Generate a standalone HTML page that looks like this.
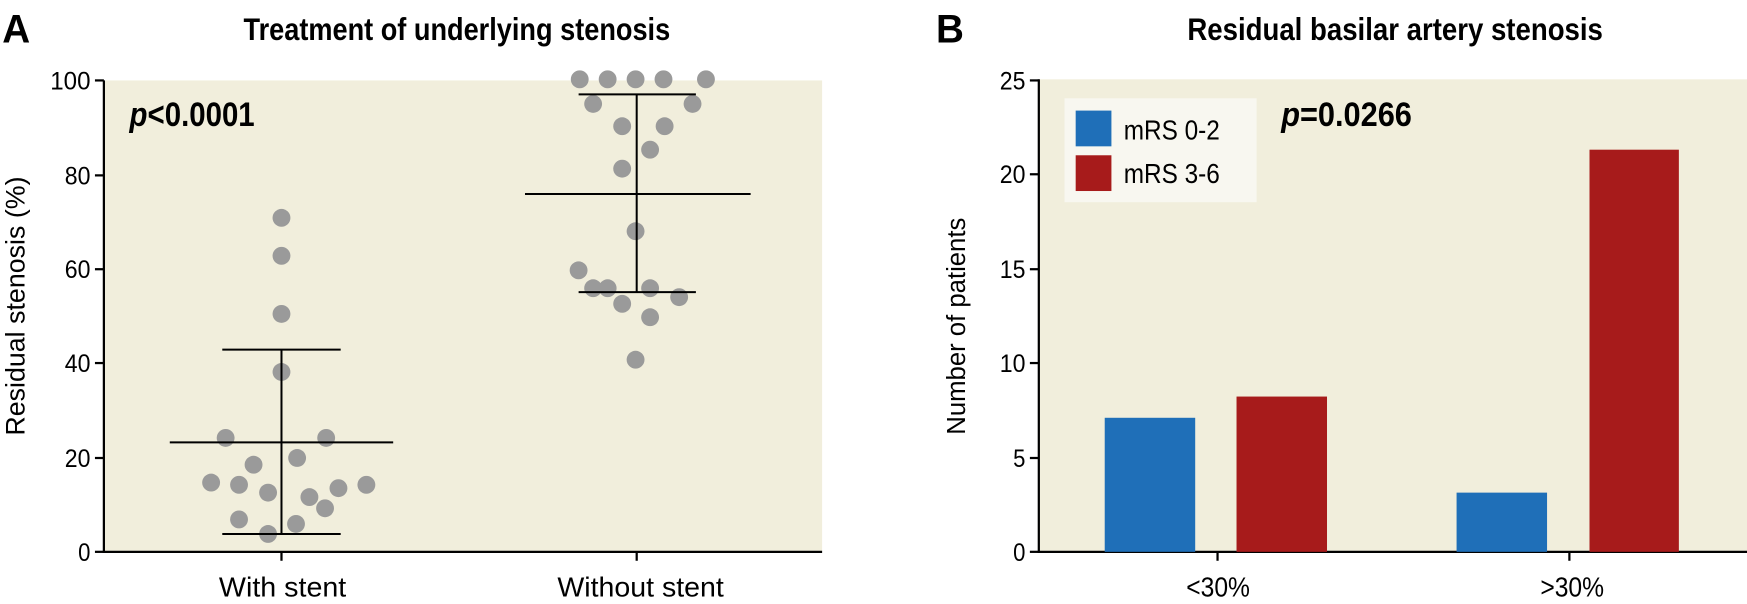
<!DOCTYPE html>
<html><head><meta charset="utf-8"><style>
html,body{margin:0;padding:0;background:#fff;}
svg{display:block;}
.n{font-family:"Liberation Sans Narrow","Liberation Sans",sans-serif;}
.s{font-family:"Liberation Sans",sans-serif;}
</style></head><body>
<svg width="1747" height="604" viewBox="0 0 1564 540.7" preserveAspectRatio="none" xmlns="http://www.w3.org/2000/svg">
<rect width="1564" height="541" fill="#fff"/>
<!-- Panel A -->
<text x="2" y="38" class="n" font-size="36" font-weight="bold" textLength="25" lengthAdjust="spacingAndGlyphs">A</text>
<text x="218" y="36" class="n" font-size="28" font-weight="bold" textLength="382" lengthAdjust="spacingAndGlyphs">Treatment of underlying stenosis</text>
<rect x="93" y="72" width="643" height="422" fill="#f1eedc"/>
<g stroke="#000" stroke-width="2">
<line x1="93" y1="72" x2="93" y2="495"/>
<line x1="92" y1="494" x2="736" y2="494"/>
<line x1="85" y1="494" x2="93" y2="494"/><line x1="85" y1="410" x2="93" y2="410"/>
<line x1="85" y1="325" x2="93" y2="325"/><line x1="85" y1="241" x2="93" y2="241"/>
<line x1="85" y1="157" x2="93" y2="157"/><line x1="85" y1="72" x2="93" y2="72"/>
<line x1="252" y1="494" x2="252" y2="502"/><line x1="570" y1="494" x2="570" y2="502"/>
</g>
<g class="n" font-size="22">
<text x="70" y="502" textLength="11" lengthAdjust="spacingAndGlyphs">0</text>
<text x="58" y="418" textLength="23" lengthAdjust="spacingAndGlyphs">20</text>
<text x="58" y="333" textLength="23" lengthAdjust="spacingAndGlyphs">40</text>
<text x="58" y="249" textLength="23" lengthAdjust="spacingAndGlyphs">60</text>
<text x="58" y="165" textLength="23" lengthAdjust="spacingAndGlyphs">80</text>
<text x="45" y="80" textLength="36" lengthAdjust="spacingAndGlyphs">100</text>
</g>
<text x="196" y="534" class="n" font-size="25" textLength="114" lengthAdjust="spacingAndGlyphs">With stent</text>
<text x="499" y="534" class="n" font-size="25" textLength="149" lengthAdjust="spacingAndGlyphs">Without stent</text>
<text transform="translate(22,274) rotate(-90)" class="s" font-size="24" text-anchor="middle">Residual stenosis (%)</text>
<text x="116" y="113" class="n" font-size="31" font-weight="bold" textLength="112" lengthAdjust="spacingAndGlyphs"><tspan font-style="italic">p</tspan>&lt;0.0001</text>
<g fill="#9a9a9a">
<circle cx="252" cy="195" r="8"/><circle cx="252" cy="229" r="8"/><circle cx="252" cy="281" r="8"/><circle cx="252" cy="333" r="8"/>
<circle cx="202" cy="392" r="8"/><circle cx="292" cy="392" r="8"/><circle cx="266" cy="410" r="8"/><circle cx="227" cy="416" r="8"/>
<circle cx="189" cy="432" r="8"/><circle cx="214" cy="434" r="8"/><circle cx="240" cy="441" r="8"/><circle cx="277" cy="445" r="8"/>
<circle cx="303" cy="437" r="8"/><circle cx="328" cy="434" r="8"/><circle cx="291" cy="455" r="8"/><circle cx="214" cy="465" r="8"/>
<circle cx="265" cy="469" r="8"/><circle cx="240" cy="478" r="8"/>
<circle cx="519" cy="71" r="8"/><circle cx="544" cy="71" r="8"/><circle cx="569" cy="71" r="8"/><circle cx="594" cy="71" r="8"/><circle cx="632" cy="71" r="8"/>
<circle cx="531" cy="93" r="8"/><circle cx="620" cy="93" r="8"/><circle cx="557" cy="113" r="8"/><circle cx="595" cy="113" r="8"/>
<circle cx="582" cy="134" r="8"/><circle cx="557" cy="151" r="8"/><circle cx="569" cy="207" r="8"/><circle cx="518" cy="242" r="8"/>
<circle cx="531" cy="258" r="8"/><circle cx="544" cy="258" r="8"/><circle cx="582" cy="258" r="8"/><circle cx="608" cy="266" r="8"/>
<circle cx="557" cy="272" r="8"/><circle cx="582" cy="284" r="8"/><circle cx="569" cy="322" r="8"/>
</g>
<g stroke="#000" stroke-width="1.8">
<line x1="252" y1="313" x2="252" y2="478"/>
<line x1="152" y1="396" x2="352" y2="396"/>
<line x1="199" y1="313" x2="305" y2="313"/>
<line x1="199" y1="478" x2="305" y2="478"/>
<line x1="570" y1="84.5" x2="570" y2="261.5"/>
<line x1="470" y1="173.7" x2="672" y2="173.7"/>
<line x1="518" y1="84.5" x2="623" y2="84.5"/>
<line x1="518" y1="261.5" x2="623" y2="261.5"/>
</g>
<!-- Panel B -->
<text x="838" y="38" class="n" font-size="36" font-weight="bold" textLength="25" lengthAdjust="spacingAndGlyphs">B</text>
<text x="1063" y="36" class="n" font-size="28" font-weight="bold" textLength="372" lengthAdjust="spacingAndGlyphs">Residual basilar artery stenosis</text>
<rect x="930" y="71" width="634" height="423" fill="#f1eedc"/>
<g stroke="#000" stroke-width="2">
<line x1="930" y1="71" x2="930" y2="495"/>
<line x1="929" y1="494" x2="1564" y2="494"/>
<line x1="922" y1="494" x2="930" y2="494"/><line x1="922" y1="410" x2="930" y2="410"/>
<line x1="922" y1="325" x2="930" y2="325"/><line x1="922" y1="241" x2="930" y2="241"/>
<line x1="922" y1="156" x2="930" y2="156"/><line x1="922" y1="72" x2="930" y2="72"/>
<line x1="1090" y1="494" x2="1090" y2="502"/><line x1="1405" y1="494" x2="1405" y2="502"/>
</g>
<g class="n" font-size="22">
<text x="907" y="502" textLength="11" lengthAdjust="spacingAndGlyphs">0</text>
<text x="907" y="418" textLength="11" lengthAdjust="spacingAndGlyphs">5</text>
<text x="895" y="333" textLength="23" lengthAdjust="spacingAndGlyphs">10</text>
<text x="895" y="249" textLength="23" lengthAdjust="spacingAndGlyphs">15</text>
<text x="895" y="164" textLength="23" lengthAdjust="spacingAndGlyphs">20</text>
<text x="895" y="80" textLength="23" lengthAdjust="spacingAndGlyphs">25</text>
</g>
<text x="1062" y="534" class="n" font-size="25" textLength="57" lengthAdjust="spacingAndGlyphs">&lt;30%</text>
<text x="1379" y="534" class="n" font-size="25" textLength="57" lengthAdjust="spacingAndGlyphs">&gt;30%</text>
<text transform="translate(864,292) rotate(-90)" class="s" font-size="23" text-anchor="middle">Number of patients</text>
<rect x="989" y="374" width="81" height="120" fill="#1f6fb8"/>
<rect x="1107" y="355" width="81" height="139" fill="#a71b1b"/>
<rect x="1304" y="441" width="81" height="53" fill="#1f6fb8"/>
<rect x="1423" y="134" width="80" height="360" fill="#a71b1b"/>
<rect x="953" y="88" width="172" height="93" fill="#f8f7f0"/>
<rect x="963" y="99" width="32" height="32" fill="#1f6fb8"/>
<rect x="963" y="139" width="32" height="32" fill="#a71b1b"/>
<text x="1006" y="125" class="n" font-size="25" textLength="86" lengthAdjust="spacingAndGlyphs">mRS 0-2</text>
<text x="1006" y="164" class="n" font-size="25" textLength="86" lengthAdjust="spacingAndGlyphs">mRS 3-6</text>
<text x="1147" y="113" class="n" font-size="31" font-weight="bold" textLength="117" lengthAdjust="spacingAndGlyphs"><tspan font-style="italic">p</tspan>=0.0266</text>
</svg>
</body></html>
